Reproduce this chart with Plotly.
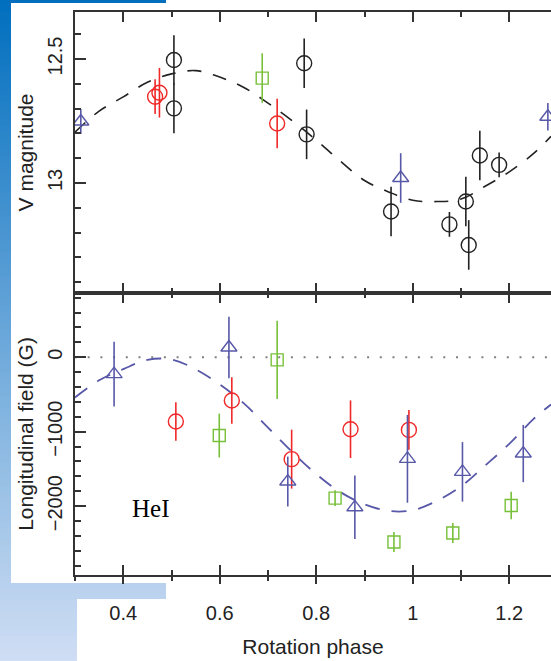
import plotly.graph_objects as go

# ---------------- data ----------------
# Top panel: V magnitude vs rotation phase
v_black_phase = [0.505, 0.505, 0.775, 0.780, 0.955, 1.076, 1.110, 1.116, 1.139, 1.179]
v_black_mag = [12.504, 12.699, 12.517, 12.804, 13.115, 13.167, 13.075, 13.250, 12.889, 12.927]
v_black_err = [0.10, 0.10, 0.10, 0.10, 0.10, 0.05, 0.10, 0.10, 0.10, 0.05]

v_red_phase = [0.466, 0.475, 0.719]
v_red_mag = [12.652, 12.636, 12.760]
v_red_err = [0.07, 0.10, 0.10]

v_green_phase = [0.688]
v_green_mag = [12.577]
v_green_err = [0.10]

v_blue_phase = [0.312, 0.975, 1.280]
v_blue_mag = [12.752, 12.980, 12.733]
v_blue_err = [0.05, 0.10, 0.055]

fit_phase = [0.30, 0.35, 0.40, 0.45, 0.50, 0.55, 0.60, 0.65, 0.70, 0.75, 0.80,
             0.85, 0.90, 0.95, 1.00, 1.05, 1.10, 1.15, 1.20, 1.25, 1.2865]
v_fit_mag = [12.795, 12.710, 12.653, 12.594, 12.560, 12.547, 12.573, 12.615, 12.678, 12.749, 12.827,
             12.912, 12.990, 13.036, 13.070, 13.075, 13.065, 13.013, 12.955, 12.882, 12.812]

# Bottom panel: longitudinal field (G) vs rotation phase
b_blue_phase = [0.381, 0.619, 0.741, 0.880, 0.989, 1.103, 1.229]
b_blue_field = [-227, 131, -1670, -2016, -1365, -1540, -1294]
b_blue_err = [436, 414, 335, 427, 590, 400, 385]

b_red_phase = [0.509, 0.625, 0.749, 0.871, 0.992]
b_red_field = [-864, -582, -1369, -967, -976]
b_red_err = [258, 313, 396, 387, 268]

b_green_phase = [0.599, 0.719, 0.839, 0.961, 1.083, 1.204]
b_green_field = [-1052, -36, -1893, -2483, -2362, -1992]
b_green_err = [295, 525, 107, 134, 134, 185]

b_fit_field = [-540, -310, -160, -35, -30, -162, -366, -620, -945, -1272, -1570,
               -1812, -1976, -2065, -2055, -1930, -1735, -1455, -1165, -832, -635]

x_tickvals = [0.4, 0.6, 0.8, 1.0, 1.2]
x_ticktext = ["0.4", "0.6", "0.8", "1", "1.2"]
v_tickvals = [12.5, 13.0]
v_ticktext = ["12.5", "13"]
b_tickvals = [0, -1000, -2000]
b_ticktext = ["0", "\u22121000", "\u22122000"]

# ---------------- styling ----------------
W, H = 551, 661
L, R, T, B = 75, 0, 12, 86
PW, PH = W - L - R, H - T - B
X_RANGE = [0.3, 1.2865]

BLACK = "#222222"
RED = "#f02828"
GREEN = "#78c03a"
BLUE = "#5858a8"
FONT = "Liberation Sans, Arial, sans-serif"


def px2x(px):
    return (px - L) / PW


def py2y(py):
    return (H - B - py) / PH


fig = go.Figure()


def add_points(x, y, err, color, symbol, size, xa, ya):
    fig.add_trace(go.Scatter(
        x=x, y=y, mode="markers", xaxis=xa, yaxis=ya,
        marker=dict(symbol=symbol, size=size, color=color, line=dict(width=1.4, color=color)),
        error_y=dict(type="data", array=err, visible=True, color=color, thickness=1.6, width=0),
        showlegend=False, hoverinfo="skip"))


# top panel
fig.add_trace(go.Scatter(x=fit_phase, y=v_fit_mag, mode="lines", xaxis="x", yaxis="y",
                         line=dict(color=BLACK, width=1.6, dash="14px,12px", shape="spline"),
                         showlegend=False, hoverinfo="skip"))
add_points(v_black_phase, v_black_mag, v_black_err, BLACK, "circle-open", 15, "x", "y")
add_points(v_red_phase, v_red_mag, v_red_err, RED, "circle-open", 15, "x", "y")
add_points(v_green_phase, v_green_mag, v_green_err, GREEN, "square-open", 12, "x", "y")
add_points(v_blue_phase, v_blue_mag, v_blue_err, BLUE, "triangle-up-open", 14, "x", "y")

# bottom panel
fig.add_trace(go.Scatter(x=fit_phase, y=b_fit_field, mode="lines", xaxis="x2", yaxis="y2",
                         line=dict(color=BLUE, width=1.8, dash="15px,12px", shape="spline"),
                         showlegend=False, hoverinfo="skip"))
add_points(b_red_phase, b_red_field, b_red_err, RED, "circle-open", 15, "x2", "y2")
add_points(b_green_phase, b_green_field, b_green_err, GREEN, "square-open", 12, "x2", "y2")
add_points(b_blue_phase, b_blue_field, b_blue_err, BLUE, "triangle-up-open", 14, "x2", "y2")

# dummy trace so the outer tick axis is drawn
fig.add_trace(go.Scatter(x=[X_RANGE[0]], y=[0], xaxis="x3", yaxis="y2", mode="markers",
                         marker=dict(opacity=0), showlegend=False, hoverinfo="skip"))

# ---------------- background (slide) ----------------
shapes = []
top_c = (0, 110, 190)
bot_c = (208, 222, 244)
step = 6
for i in range(0, H, step):
    t = (i + step / 2) / H
    c = tuple(int(round(top_c[k] + (bot_c[k] - top_c[k]) * t)) for k in range(3))
    shapes.append(dict(type="rect", xref="paper", yref="paper", layer="below",
                       x0=px2x(0), x1=px2x(166), y0=py2y(i + step), y1=py2y(i),
                       fillcolor="rgb(%d,%d,%d)" % c, line=dict(width=0)))
shapes.append(dict(type="rect", xref="paper", yref="paper", layer="below",
                   x0=px2x(11), x1=1.02, y0=py2y(583), y1=py2y(3),
                   fillcolor="white", line=dict(width=0)))
shapes.append(dict(type="rect", xref="paper", yref="paper", layer="below",
                   x0=px2x(77), x1=1.02, y0=py2y(H + 2), y1=py2y(599),
                   fillcolor="white", line=dict(width=0)))
shapes.append(dict(type="line", xref="paper", yref="y2", layer="below",
                   x0=0, x1=1, y0=0, y1=0,
                   line=dict(color="#808080", width=2, dash="2px,10.7px")))

axis_common = dict(showline=True, linecolor="#333333", linewidth=1.5, showgrid=False,
                   zeroline=False, tickcolor="#333333", tickwidth=1.5,
                   tickfont=dict(family=FONT, size=20, color="#222222"))

TITLE_FONT = dict(family=FONT, size=21, color="#222222")

fig.update_layout(
    width=W, height=H, margin=dict(l=L, r=R, t=T, b=B),
    paper_bgcolor="white", plot_bgcolor="rgba(0,0,0,0)",
    showlegend=False, shapes=shapes,
    xaxis=dict(domain=[0, 1], anchor="y", range=X_RANGE, tickvals=x_tickvals, ticktext=x_ticktext,
               showticklabels=False, ticks="inside", ticklen=10, mirror="ticks",
               minor=dict(ticks="inside", ticklen=5, dtick=0.1, tick0=0.3, tickcolor="#333333", tickwidth=1.5),
               **axis_common),
    yaxis=dict(domain=[0.501, 1], anchor="x", range=[13.4435, 12.3105], tickvals=v_tickvals,
               ticktext=v_ticktext, ticks="inside", ticklen=11, tickangle=-90,
               minor=dict(ticks="inside", ticklen=6, dtick=0.1, tick0=12.0, tickcolor="#333333", tickwidth=1.5),
               title=dict(text="V magnitude", font=TITLE_FONT, standoff=5),
               ticklabelstandoff=3,
               **axis_common),
    xaxis2=dict(domain=[0, 1], anchor="y2", range=X_RANGE, tickvals=x_tickvals, ticktext=x_ticktext,
                showticklabels=False, ticks="inside", ticklen=10, mirror="ticks",
                minor=dict(ticks="inside", ticklen=5, dtick=0.1, tick0=0.3, tickcolor="#333333", tickwidth=1.5),
                **axis_common),
    xaxis3=dict(overlaying="x2", anchor="y2", side="bottom", range=X_RANGE, tickvals=x_tickvals,
                ticktext=x_ticktext, ticks="outside", ticklen=8, showline=False, showgrid=False,
                zeroline=False, tickcolor="#333333", tickwidth=1.5,
                tickfont=dict(family=FONT, size=20, color="#222222"), ticklabelstandoff=12,
                minor=dict(ticks="outside", ticklen=5, dtick=0.1, tick0=0.3, tickcolor="#333333", tickwidth=1.5),
                title=dict(text="Rotation phase", font=TITLE_FONT, standoff=16)),
    yaxis2=dict(domain=[0, 0.501], anchor="x2", range=[-2926, 864], tickvals=b_tickvals,
                ticktext=b_ticktext, ticks="inside", ticklen=11, tickangle=-90,
                minor=dict(ticks="inside", ticklen=6, dtick=200, tick0=0, tickcolor="#333333", tickwidth=1.5),
                title=dict(text="Longitudinal field (G)", font=TITLE_FONT, standoff=5),
                ticklabelstandoff=3,
                **axis_common),
    annotations=[dict(text="HeI", xref="paper", yref="paper", x=px2x(150), y=py2y(508.5),
                      showarrow=False, xanchor="center", yanchor="middle",
                      font=dict(family="Liberation Serif, Times New Roman, serif", size=25, color="black"))],
)

fig.write_html("out.html")
